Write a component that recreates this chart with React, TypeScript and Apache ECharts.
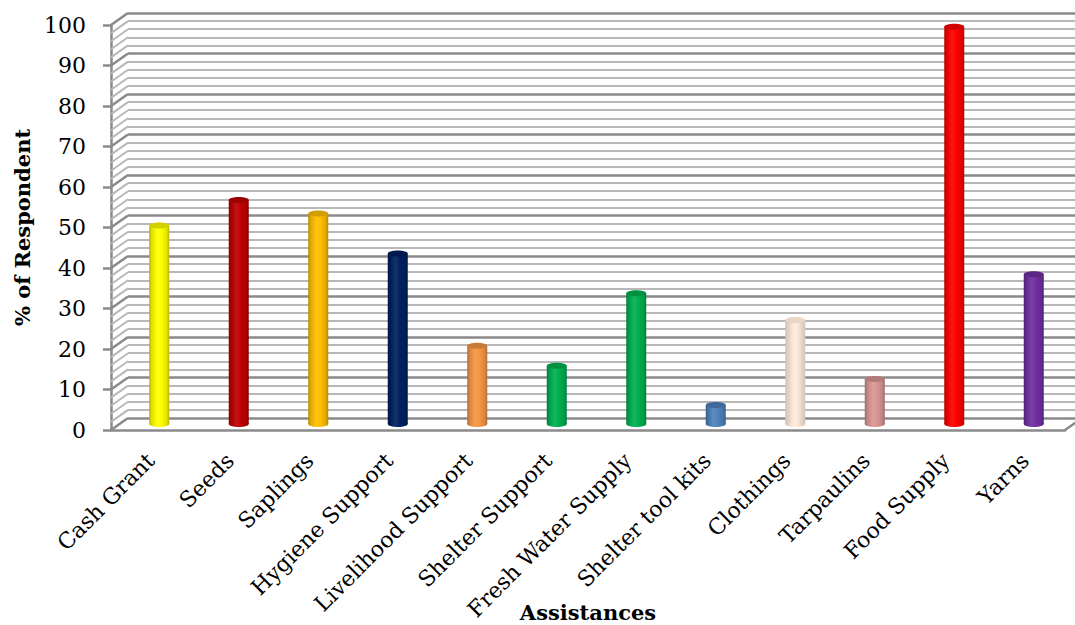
import React, { useEffect, useRef } from "react";
import * as echarts from "echarts";

const categories = [
  "Cash Grant",
  "Seeds",
  "Saplings",
  "Hygiene Support",
  "Livelihood Support",
  "Shelter Support",
  "Fresh Water Supply",
  "Shelter tool kits",
  "Clothings",
  "Tarpaulins",
  "Food Supply",
  "Yarns",
];
const values = [49, 55.3, 52, 42.1, 19.3, 14.4, 32.3, 4.7, 25.7, 11.1, 98.1, 37];
const barColors = [
  "#FFFF00",
  "#C00000",
  "#FFC000",
  "#002060",
  "#F79646",
  "#00B050",
  "#00B050",
  "#4F81BD",
  "#FDEADA",
  "#D99694",
  "#FF0000",
  "#7030A0",
];
const yMin = 0;
const yMax = 100;
const yInterval = 10;
const yMinorSplit = 5;

// layout
const FRONT_LEFT = 111;
const FRONT_TOP = 25;
const PLOT_W = 954;
const PLOT_H = 405;
const DX = 17;
const DY = -12;
const FONT = "'DejaVu Serif', serif";
const MAJOR = "#8a8a8a";
const MINOR = "#b8b8b8";

function mix(hex: string, target: number, t: number): string {
  const h = hex.replace("#", "");
  const r = parseInt(h.slice(0, 2), 16);
  const g = parseInt(h.slice(2, 4), 16);
  const b = parseInt(h.slice(4, 6), 16);
  const f = (c: number) => Math.round(c + (target - c) * t);
  return `rgb(${f(r)},${f(g)},${f(b)})`;
}

export default function App() {
  const ref = useRef<HTMLDivElement>(null);
  useEffect(() => {
    if (!ref.current) return;
    const chart = echarts.init(ref.current, null, { renderer: "svg" });
    const minorStep = yInterval / yMinorSplit;
    const wallLevels: number[] = [];
    for (let v = yMin; v <= yMax + 1e-9; v += minorStep) wallLevels.push(Math.round(v * 100) / 100);

    const gridBase = { width: PLOT_W, height: PLOT_H, containLabel: false, outerBoundsMode: "none" };
    const grids = [
      { ...gridBase, left: FRONT_LEFT + DX, top: FRONT_TOP + DY },
      { ...gridBase, left: FRONT_LEFT + DX / 2, top: FRONT_TOP + DY / 2 },
      { ...gridBase, left: FRONT_LEFT, top: FRONT_TOP },
    ];
    const hiddenX = (gi: number) => ({
      type: "category",
      gridIndex: gi,
      data: categories,
      show: false,
    });
    const hiddenY = (gi: number) => ({
      type: "value",
      gridIndex: gi,
      min: yMin,
      max: yMax,
      interval: yInterval,
      show: gi === 0,
      axisLine: { show: false },
      axisTick: { show: false },
      axisLabel: { show: false },
      splitLine: { show: gi === 0, lineStyle: { color: MAJOR, width: 2.5 } },
      minorTick: { show: false, splitNumber: yMinorSplit },
      minorSplitLine: { show: gi === 0, lineStyle: { color: MINOR, width: 2 } },
    });

    const option: any = {
      animation: false,
      backgroundColor: "#ffffff",
      grid: grids,
      xAxis: [
        hiddenX(0),
        hiddenX(1),
        {
          type: "category",
          gridIndex: 2,
          data: categories,
          axisLine: { show: true, lineStyle: { color: MAJOR, width: 2.5 } },
          axisTick: { show: false },
          splitLine: { show: false },
          axisLabel: {
            interval: 0,
            rotate: 45,
            margin: 27,
            color: "#000",
            fontFamily: FONT,
            fontSize: 22,
          },
          name: "Assistances",
          nameLocation: "middle",
          nameGap: 172,
          nameMoveOverlap: false,
          nameTextStyle: { color: "#000", fontFamily: FONT, fontSize: 21, fontWeight: "bold" },
        },
      ],
      yAxis: [
        hiddenY(0),
        hiddenY(1),
        {
          type: "value",
          gridIndex: 2,
          min: yMin,
          max: yMax,
          interval: yInterval,
          axisLine: { show: true, lineStyle: { color: MAJOR, width: 2.5 } },
          axisTick: { show: true, length: 8, lineStyle: { color: MAJOR, width: 2.5 } },
          splitLine: { show: false },
          axisLabel: { color: "#000", fontFamily: FONT, fontSize: 22, margin: 25 },
          name: "% of Respondent",
          nameLocation: "middle",
          nameGap: 78,
          nameMoveOverlap: false,
          nameTextStyle: { color: "#000", fontFamily: FONT, fontSize: 21, fontWeight: "bold" },
        },
      ],
      series: [
        {
          type: "custom",
          name: "side wall",
          xAxisIndex: 2,
          yAxisIndex: 2,
          clip: false,
          silent: true,
          data: wallLevels.map((v) => [0, v]),
          renderItem: (params: any, api: any) => {
            const v = api.value(1);
            const p = api.coord([0, v]);
            const cs = params.coordSys;
            const isMajor = Math.abs(v / yInterval - Math.round(v / yInterval)) < 1e-6;
            const style = { stroke: isMajor ? MAJOR : MINOR, lineWidth: isMajor ? 2.5 : 2 };
            const children: any[] = [
              { type: "line", shape: { x1: cs.x, y1: p[1], x2: cs.x + DX, y2: p[1] + DY }, style },
            ];
            if (v === yMin) {
              children.push({
                type: "line",
                shape: { x1: cs.x + cs.width, y1: p[1], x2: cs.x + cs.width + DX, y2: p[1] + DY },
                style: { stroke: MAJOR, lineWidth: 2.5 },
              });
            }
            return { type: "group", children };
          },
        },
        {
          type: "custom",
          name: "bars",
          xAxisIndex: 1,
          yAxisIndex: 1,
          clip: false,
          data: values.map((v, i) => [i, v]),
          renderItem: (params: any, api: any) => {
            const i = api.value(0);
            const v = api.value(1);
            const top = api.coord([i, v]);
            const base = api.coord([i, 0]);
            const c = barColors[params.dataIndex];
            const rx = 10;
            const ry = 3;
            const light = c.toUpperCase() === "#FDEADA";
            const edge = light ? "#d6c2ae" : mix(c, 0, 0.3);
            const grad = new echarts.graphic.LinearGradient(0, 0, 1, 0, [
              { offset: 0, color: edge },
              { offset: 0.12, color: mix(c, 0, 0.12) },
              { offset: 0.4, color: mix(c, 255, 0.08) },
              { offset: 0.6, color: c },
              { offset: 0.88, color: mix(c, 0, 0.12) },
              { offset: 1, color: edge },
            ]);
            return {
              type: "group",
              children: [
                {
                  type: "ellipse",
                  shape: { cx: top[0], cy: base[1], rx, ry },
                  style: { fill: grad },
                },
                {
                  type: "rect",
                  shape: { x: top[0] - rx, y: top[1], width: rx * 2, height: base[1] - top[1] },
                  style: { fill: grad },
                },
                {
                  type: "ellipse",
                  shape: { cx: top[0], cy: top[1], rx, ry },
                  style: { fill: light ? "#e8d6c6" : mix(c, 0, 0.18) },
                },
              ],
            };
          },
        },
      ],
    };
    chart.setOption(option);
    return () => chart.dispose();
  }, []);
  return (
    <div
      ref={ref}
      style={{ position: "fixed", left: 0, top: 0, width: 1075, height: 625, background: "#fff" }}
    />
  );
}
